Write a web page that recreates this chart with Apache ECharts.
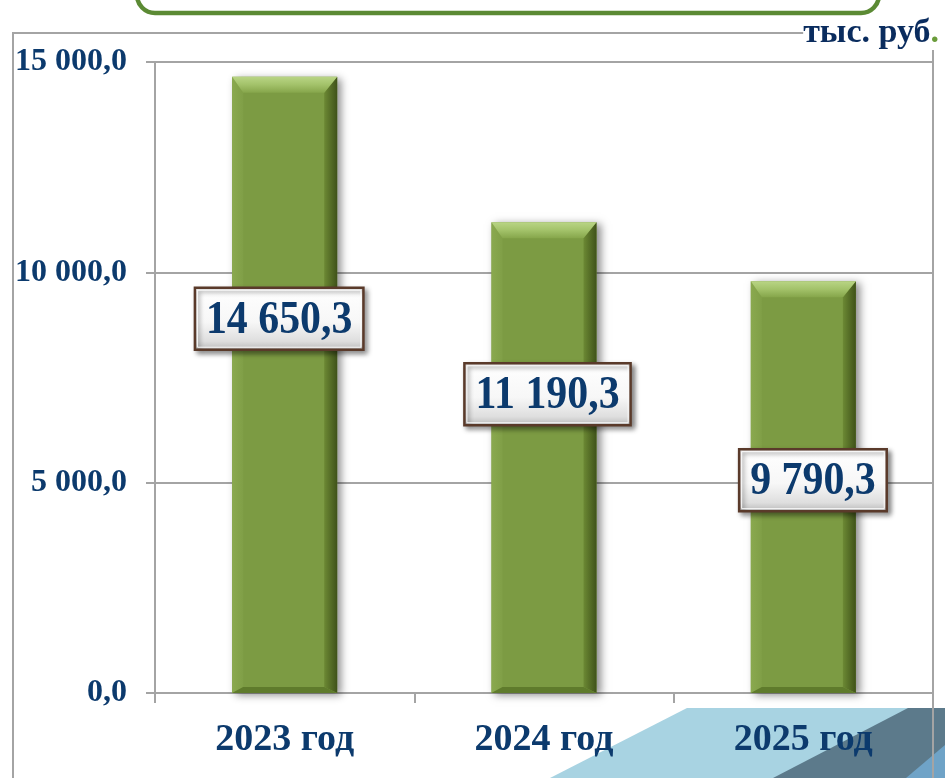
<!DOCTYPE html>
<html>
<head>
<meta charset="utf-8">
<script src="https://cdn.jsdelivr.net/npm/echarts@6/dist/echarts.min.js"></script>
<style>
html,body{margin:0;padding:0;background:#fff;}
#chart{width:945px;height:778px;}
</style>
</head>
<body>
<div id="chart"></div>
<script>
// ---- data ----
const categories = ['2023 год', '2024 год', '2025 год'];
const values = [14650.3, 11190.3, 9790.3];
const yTicks = [0, 5000, 10000, 15000];
const yTickLabels = ['0,0', '5 000,0', '10 000,0', '15 000,0'];
const unitText = 'тыс. руб';

// ---- style config (not data) ----
const FONT = '"Liberation Serif","Times New Roman",serif';
const NAVY = '#0c3a6d';
const GRID_COLOR = '#a4a4a4';
const labelDx = [-5.5, 3.5, 9.6];      // label box offset from bar centre (px)
const labelDy = [242, 172, 199];       // label box centre below bar top (px)
const LABEL_SCALE_X = 0.91;

function fmt(v) {
  const s = v.toFixed(1);
  const parts = s.split('.');
  return parts[0].replace(/\B(?=(\d{3})+(?!\d))/g, ' ') + ',' + parts[1];
}

const measureCtx = document.createElement('canvas').getContext('2d');
function textWidth(t, font) { measureCtx.font = font; return measureCtx.measureText(t).width; }

function renderItem(params, api) {
  const idx = params.dataIndex;
  const cat = api.value(0);
  const v = api.value(1);
  const top = api.coord([cat, v]);
  const base = api.coord([cat, 0]);
  const bw = api.size([1, 0])[0] * 0.405;
  const x = top[0] - bw / 2, y = top[1], h = base[1] - top[1], w = bw;
  const b = 11, bt = 16, bb = 6;
  const children = [
    { type: 'rect', shape: { x: x, y: y, width: w, height: h },
      style: { fill: '#7c9b43', shadowColor: 'rgba(0,0,0,0.45)', shadowBlur: 8, shadowOffsetX: 4, shadowOffsetY: 2 } },
    { type: 'polygon', shape: { points: [[x, y], [x + b, y + bt], [x + b, y + h - bb], [x, y + h]] },
      style: { fill: new echarts.graphic.LinearGradient(0, 0, 1, 0, [{ offset: 0, color: '#8aa94f' }, { offset: 1, color: '#809f47' }]) } },
    { type: 'polygon', shape: { points: [[x + w, y], [x + w - b - 2, y + bt], [x + w - b - 2, y + h - bb], [x + w, y + h]] },
      style: { fill: new echarts.graphic.LinearGradient(0, 0, 1, 0, [{ offset: 0, color: '#6c8934' }, { offset: 1, color: '#3f5219' }]) } },
    { type: 'polygon', shape: { points: [[x, y], [x + w, y], [x + w - b - 2, y + bt], [x + b, y + bt]] },
      style: { fill: new echarts.graphic.LinearGradient(0, 0, 0, 1, [{ offset: 0, color: '#b9d585' }, { offset: 0.5, color: '#a3c26a' }, { offset: 1, color: '#86a64b' }]) } },
    { type: 'polygon', shape: { points: [[x, y + h], [x + w, y + h], [x + w - b - 2, y + h - bb], [x + b, y + h - bb]] },
      style: { fill: '#5f7b2c' } }
  ];
  // value label box
  const txt = fmt(v);
  const font = 'bold 46px ' + FONT;
  const tw = textWidth(txt, font) * LABEL_SCALE_X;
  const boxW = tw + 22, boxH = 62;
  const cx = top[0] + labelDx[idx], cy = y + labelDy[idx];
  children.push({
    type: 'rect', shape: { x: cx - boxW / 2, y: cy - boxH / 2, width: boxW, height: boxH },
    style: {
      fill: new echarts.graphic.LinearGradient(0, 0, 0, 1, [
        { offset: 0, color: '#ffffff' }, { offset: 0.55, color: '#f7f7f7' },
        { offset: 0.85, color: '#dedede' }, { offset: 1, color: '#b5b5b5' }]),
      stroke: '#5a3a2a', lineWidth: 2.5,
      shadowColor: 'rgba(0,0,0,0.45)', shadowBlur: 5, shadowOffsetX: 3, shadowOffsetY: 3
    }
  });
  children.push({
    type: 'rect', shape: { x: cx - boxW / 2 + 2.5, y: cy - boxH / 2 + 2.5, width: boxW - 5, height: boxH - 5 },
    style: { fill: 'none', stroke: 'rgba(255,255,255,0.9)', lineWidth: 1 }
  });
  children.push({
    type: 'text', x: cx, y: cy + 2, scaleX: LABEL_SCALE_X, scaleY: 1,
    style: { text: txt, x: 0, y: 0, align: 'center', verticalAlign: 'middle', font: font, fill: NAVY }
  });
  return { type: 'group', children: children };
}

const chart = echarts.init(document.getElementById('chart'), null, { renderer: 'canvas' });
const option = {
  animation: false,
  backgroundColor: '#ffffff',
  grid: { left: 155, right: 12, top: 62, bottom: 85 },
  xAxis: {
    type: 'category',
    data: categories,
    boundaryGap: true,
    axisLine: { lineStyle: { color: GRID_COLOR, width: 2 } },
    axisTick: { show: true, length: 10, lineStyle: { color: GRID_COLOR, width: 2 } },
    axisLabel: { fontFamily: FONT, fontSize: 38, fontWeight: 'bold', color: NAVY, margin: 28 }
  },
  yAxis: {
    type: 'value',
    min: yTicks[0], max: yTicks[yTicks.length - 1], interval: yTicks[1] - yTicks[0],
    axisLine: { show: true, lineStyle: { color: GRID_COLOR, width: 2 } },
    axisTick: { show: true, length: 9, lineStyle: { color: GRID_COLOR, width: 2 } },
    splitLine: { lineStyle: { color: GRID_COLOR, width: 2 } },
    axisLabel: {
      fontFamily: FONT, fontSize: 32, fontWeight: 'bold', color: NAVY, margin: 28,
      formatter: function (val) { const i = yTicks.indexOf(val); return i >= 0 ? yTickLabels[i] : ''; }
    }
  },
  series: [{
    type: 'custom',
    data: values.map(function (v, i) { return [i, v]; }),
    renderItem: renderItem,
    z: 5
  }],
  graphic: {
    elements: [
      { type: 'polygon', z: -20, silent: true,
        shape: { points: [[687, 708], [945, 708], [945, 778], [550, 778]] }, style: { fill: '#a8d3e2' } },
      { type: 'polygon', z: -19, silent: true,
        shape: { points: [[908, 708], [945, 708], [945, 778], [773, 778]] }, style: { fill: '#5c7a8b' } },
      { type: 'polygon', z: -18, silent: true,
        shape: { points: [[945, 745], [945, 778], [906, 778]] }, style: { fill: '#6fa3c7' } },
      { type: 'rect', z: -10, silent: true,
        shape: { x: 13, y: 33, width: 920, height: 800 }, style: { fill: 'none', stroke: GRID_COLOR, lineWidth: 2 } },
      { type: 'rect', z: -10, silent: true,
        shape: { x: 137, y: -45, width: 742, height: 58, r: 18 }, style: { fill: 'none', stroke: '#5b8a34', lineWidth: 4.5 } },
      { type: 'text', z: 100, silent: true,
        style: {
          x: 939, y: 16, align: 'right', verticalAlign: 'top',
          text: '{a|' + unitText + '}{g|.}',
          backgroundColor: '#ffffff',
          rich: {
            a: { fontFamily: FONT, fontSize: 34, fontWeight: 'bold', fill: '#0a2c5e', color: '#0a2c5e' },
            g: { fontFamily: FONT, fontSize: 34, fontWeight: 'bold', fill: '#6a9c3a', color: '#6a9c3a' }
          }
        } }
    ]
  }
};
chart.setOption(option);
</script>
</body>
</html>
